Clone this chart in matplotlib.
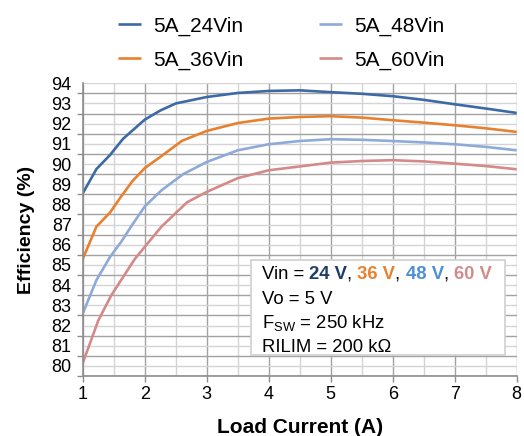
import matplotlib
matplotlib.use("Agg")
import matplotlib.pyplot as plt
from matplotlib.patches import Rectangle
from matplotlib.ticker import MultipleLocator, FixedLocator, NullFormatter, FixedFormatter

plt.rcParams['font.family'] = ['Liberation Sans', 'DejaVu Sans']
plt.rcParams['mathtext.fontset'] = 'custom'
plt.rcParams['mathtext.rm'] = 'Liberation Sans'
plt.rcParams['mathtext.it'] = 'Liberation Sans:italic'

# ---- data ----
x_24 = [1.0, 1.22, 1.44, 1.65, 2.0, 2.25, 2.5, 3.0, 3.5, 4.0, 4.5, 5.0, 5.5, 6.0, 6.5, 7.0, 7.5, 8.0]
y_24 = [88.55, 89.75, 90.45, 91.25, 92.2, 92.65, 93.0, 93.32, 93.52, 93.62, 93.65, 93.56, 93.48, 93.36, 93.18, 92.96, 92.75, 92.53]

x_36 = [1.0, 1.22, 1.44, 1.62, 1.8, 2.0, 2.25, 2.6, 3.0, 3.5, 4.0, 4.5, 5.0, 5.5, 6.0, 6.5, 7.0, 7.5, 8.0]
y_36 = [85.3, 86.9, 87.6, 88.4, 89.15, 89.8, 90.35, 91.15, 91.64, 92.03, 92.25, 92.33, 92.37, 92.3, 92.17, 92.05, 91.92, 91.77, 91.59]

x_48 = [1.0, 1.22, 1.44, 1.62, 1.8, 2.0, 2.27, 2.62, 3.0, 3.5, 4.0, 4.5, 5.0, 5.5, 6.0, 6.5, 7.0, 7.5, 8.0]
y_48 = [82.6, 84.25, 85.4, 86.15, 87.0, 87.9, 88.7, 89.5, 90.1, 90.68, 90.98, 91.14, 91.23, 91.2, 91.14, 91.07, 90.98, 90.85, 90.68]

x_60 = [1.0, 1.25, 1.46, 1.84, 2.0, 2.27, 2.68, 3.0, 3.5, 4.0, 4.5, 5.0, 5.5, 6.0, 6.5, 7.0, 7.5, 8.0]
y_60 = [80.15, 82.25, 83.5, 85.3, 85.9, 86.9, 88.1, 88.62, 89.3, 89.69, 89.88, 90.07, 90.15, 90.19, 90.13, 90.02, 89.9, 89.74]

series_labels = ["5A_24Vin", "5A_36Vin", "5A_48Vin", "5A_60Vin"]
series_colors = ["#3d6aa5", "#e8812f", "#8eaad8", "#d48a88"]

y_tick_values = list(range(80, 95))
x_tick_values = list(range(1, 9))

vin_values = ["24 V", "36 V", "48 V", "60 V"]
vin_colors = ["#1f3d6b", "#e8812f", "#4f8fd6", "#d48a88"]
note_lines = ["Vo = 5 V", r"F$_{\mathrm{SW}}$ = 250 kHz", "RILIM = 200 kΩ"]

# ---- figure ----
fig = plt.figure(figsize=(5.24, 4.36), dpi=100)
ax = fig.add_axes([0.158, 0.1376, 0.828, 0.6714])

for xs, ys, lab, col in zip([x_24, x_36, x_48, x_60], [y_24, y_36, y_48, y_60],
                            series_labels, series_colors):
    ax.plot(xs, ys, color=col, lw=1.9, label=lab, solid_capstyle='butt')

ax.set_xlim(1, 8)
ax.set_ylim(79.5, 94)

ax.xaxis.set_major_locator(FixedLocator(x_tick_values))
ax.xaxis.set_minor_locator(MultipleLocator(0.5))
ax.yaxis.set_major_locator(FixedLocator([v + 0.5 for v in range(79, 94)]))
ax.yaxis.set_major_formatter(NullFormatter())
ax.yaxis.set_minor_locator(FixedLocator(y_tick_values))
ax.yaxis.set_minor_formatter(FixedFormatter([str(v) for v in y_tick_values]))

ax.grid(which='major', color='#a2a2a2', lw=1.0)
ax.grid(which='minor', color='#d4d4d4', lw=1.0)
ax.set_axisbelow(True)

ax.tick_params(axis='x', which='major', direction='out', length=4, width=1,
               color='#8c8c8c', labelsize=13, pad=3)
ax.tick_params(axis='x', which='minor', length=0)
ax.tick_params(axis='y', which='major', direction='out', length=4, width=1,
               color='#8c8c8c')
ax.tick_params(axis='y', which='minor', length=0, labelsize=13, pad=8)

for s in ['top', 'right']:
    ax.spines[s].set_visible(False)
for s in ['left', 'bottom']:
    ax.spines[s].set_color('#8c8c8c')
    ax.spines[s].set_linewidth(1.2)

ax.set_xlabel("Load Current (A)", fontsize=15, fontweight='bold', labelpad=11)
ax.set_ylabel("Efficiency (%)", fontsize=14, fontweight='bold', labelpad=12)

# legend
fig.legend(loc='upper center', bbox_to_anchor=(0.537, 1.005), ncol=2, frameon=False,
           fontsize=15, handlelength=1.1, handletextpad=0.6, columnspacing=3.6,
           labelspacing=0.7)

# annotation box
fs = 13.3
ax.add_patch(Rectangle((0.3877, 0.0717), 0.973 - 0.3877, 0.3963 - 0.0717,
                       transform=ax.transAxes, facecolor='white',
                       edgecolor='#d0d0d0', lw=1.2, zorder=5))
tx = 0.4123
base_y = [0.3304, 0.245, 0.165, 0.083]
prev = ax.text(tx, base_y[0], "Vin = ", transform=ax.transAxes, fontsize=fs,
               va='baseline', ha='left', zorder=6)
for i, (v, c) in enumerate(zip(vin_values, vin_colors)):
    prev = ax.annotate(v, xy=(1, 0), xycoords=prev, va='bottom', ha='left',
                       fontsize=fs, color=c, fontweight='bold', zorder=6)
    if i < len(vin_values) - 1:
        prev = ax.annotate(", ", xy=(1, 0), xycoords=prev, va='bottom', ha='left',
                           fontsize=fs, color='black', zorder=6)
for line, yy in zip(note_lines, base_y[1:]):
    ax.text(tx, yy, line, transform=ax.transAxes, fontsize=fs, va='baseline',
            ha='left', zorder=6)

fig.savefig("out.png", dpi=100)
